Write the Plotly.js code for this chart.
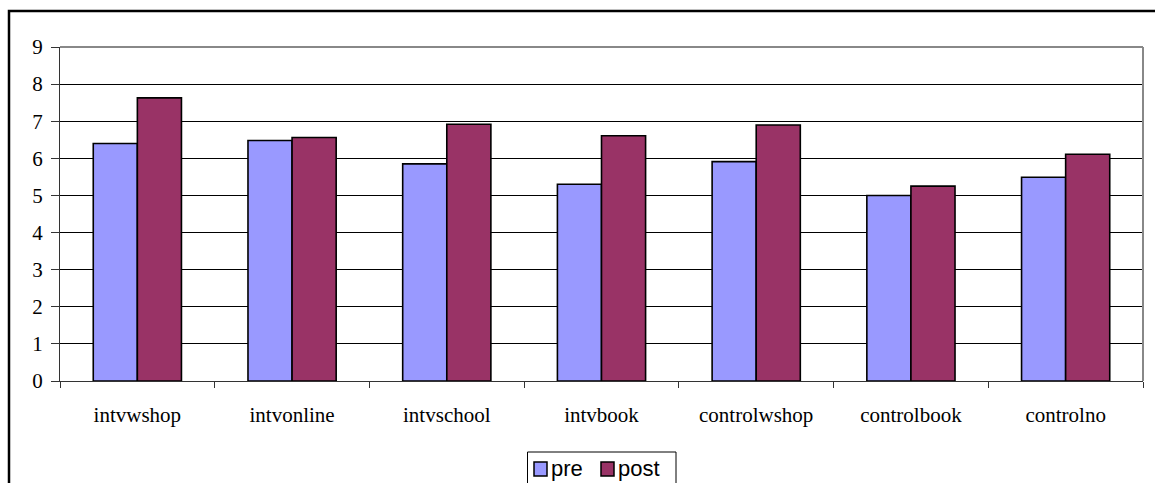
<!DOCTYPE html>
<html>
<head>
<meta charset="utf-8">
<script src="https://cdn.plot.ly/plotly-3.0.1.min.js"></script>
<style>
  html, body { margin: 0; padding: 0; background: #fff; }
  #chart { width: 1155px; height: 483px; }
</style>
</head>
<body>
<div id="chart"></div>
<script>
// Group labels along the x axis
const groups = ['intvwshop', 'intvonline', 'intvschool', 'intvbook', 'controlwshop', 'controlbook', 'controlno'];
// Mean scores before and after
const preValues = [6.40, 6.48, 5.85, 5.30, 5.91, 5.00, 5.49];
const postValues = [7.63, 6.56, 6.92, 6.61, 6.90, 5.25, 6.11];
const seriesNames = ['pre', 'post'];
const seriesColors = ['#9999FF', '#993366'];
const yTicks = [0, 1, 2, 3, 4, 5, 6, 7, 8, 9];

const W = 1155, H = 483;
const M = { l: 60, r: 12, t: 47, b: 102 };
const PW = W - M.l - M.r, PH = H - M.t - M.b;
// pixel -> paper coordinates for the frame and legend decorations
const px = x => (x - M.l) / PW;
const py = y => (H - M.b - y) / PH;

const serif = '"Liberation Serif", "Times New Roman", serif';
const sans = '"Liberation Sans", Arial, sans-serif';

const traces = [preValues, postValues].map((vals, i) => ({
  type: 'bar',
  name: seriesNames[i],
  x: groups,
  y: vals,
  marker: { color: seriesColors[i], line: { color: '#000', width: 1.6 } },
  showlegend: false,
  hoverinfo: 'x+y+name'
}));

const shapes = [
  // outer chart frame
  { type: 'rect', xref: 'paper', yref: 'paper', x0: px(9), x1: px(1170), y0: py(500), y1: py(11),
    line: { color: '#000', width: 2.5 }, fillcolor: 'rgba(0,0,0,0)', layer: 'below' },
  // plot area border (top and right)
  { type: 'line', xref: 'paper', yref: 'paper', x0: 0, x1: 1, y0: 1, y1: 1, line: { color: '#888', width: 2 } },
  { type: 'line', xref: 'paper', yref: 'paper', x0: 1, x1: 1, y0: 0, y1: 1, line: { color: '#888', width: 2 } },
  // legend box
  { type: 'rect', xref: 'paper', yref: 'paper', x0: px(527.5), x1: px(676), y0: py(495), y1: py(452),
    line: { color: '#000', width: 1 }, fillcolor: '#fff' }
];

const annotations = [];
const legendX = [534, 601];
seriesNames.forEach((name, i) => {
  const x0 = legendX[i];
  shapes.push({ type: 'rect', xref: 'paper', yref: 'paper', x0: px(x0), x1: px(x0 + 13), y0: py(476), y1: py(462),
    line: { color: '#000', width: 1.5 }, fillcolor: seriesColors[i] });
  annotations.push({ xref: 'paper', yref: 'paper', x: px(x0 + 15), y: py(468.5), xanchor: 'left', yanchor: 'middle',
    text: name, showarrow: false, font: { family: sans, size: 22, color: '#000' } });
});

const layout = {
  width: W, height: H,
  margin: M,
  paper_bgcolor: '#fff', plot_bgcolor: '#fff',
  barmode: 'group',
  bargap: 0.43,
  bargroupgap: 0,
  showlegend: false,
  font: { family: serif, size: 21, color: '#000' },
  xaxis: {
    type: 'category',
    showline: true, linecolor: '#333', linewidth: 1,
    ticks: 'outside', tickson: 'boundaries', ticklen: 6, tickcolor: '#333', tickwidth: 1,
    ticklabelstandoff: 15,
    showgrid: false, zeroline: false,
    tickfont: { family: serif, size: 21, color: '#000' }
  },
  yaxis: {
    range: [0, 9], tickvals: yTicks, ticktext: yTicks.map(String),
    showline: true, linecolor: '#333', linewidth: 1,
    ticks: 'outside', ticklen: 8, tickcolor: '#333', tickwidth: 1,
    ticklabelstandoff: 4,
    showgrid: true, gridcolor: '#000', gridwidth: 1,
    zeroline: false,
    tickfont: { family: serif, size: 21, color: '#000' }
  },
  shapes: shapes,
  annotations: annotations
};

Plotly.newPlot('chart', traces, layout, { displayModeBar: false, staticPlot: true });
</script>
</body>
</html>
